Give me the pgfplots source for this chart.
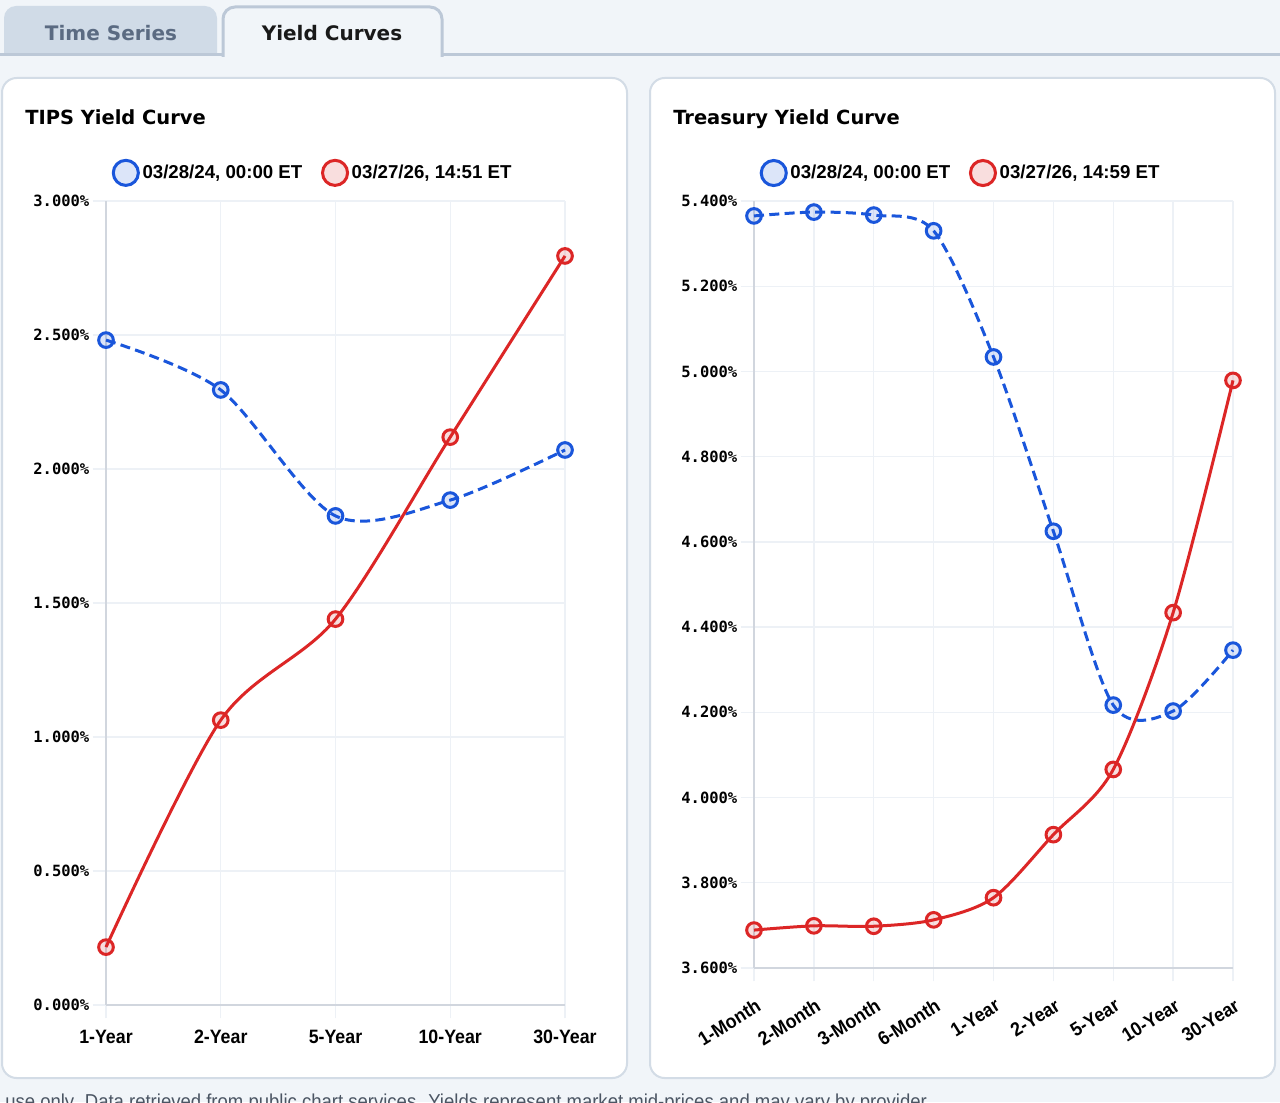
\documentclass[border=0pt]{standalone}
\usepackage{fontspec}
\usepackage{pgfplots}
\pgfplotsset{compat=1.18}
\setmainfont{Liberation Sans}
\newfontfamily\dv{DejaVu Sans}
\newfontfamily\condfont[FakeStretch=0.92]{Liberation Sans}
\newfontfamily\monofont{DejaVu Sans Mono}

\definecolor{bg}{HTML}{F1F5F9}
\definecolor{panelborder}{HTML}{D3DCE6}
\definecolor{tabline}{HTML}{BCC8D7}
\definecolor{tabfill}{HTML}{D0DBE7}
\definecolor{tabtext}{HTML}{5B6B82}
\definecolor{gridc}{HTML}{EDF1F6}
\definecolor{axisc}{HTML}{D1D6DE}
\definecolor{cblue}{HTML}{1A56DB}
\definecolor{cred}{HTML}{DC2626}
\definecolor{foot}{HTML}{4B5563}

\pgfplotsset{
  yc/.style={
    scale only axis,
    clip=false,
    enlargelimits=false,
    axis lines=left,
    axis line style={axisc, line width=1.2pt, -},
    grid=major,
    major grid style={gridc, line width=1pt},
    tick style={gridc, line width=1pt},
    tick align=outside,
    major tick length=10pt,
    xtick=data,
    yticklabel={\pgfmathprintnumber[fixed,fixed zerofill,precision=3,assume math mode=true]{\tick}\%},
    yticklabel style={font=\monofont\bfseries\fontsize{11.6pt}{13pt}\selectfont, text=black, xshift=1pt},
    xticklabel style={font=\condfont\bfseries\fontsize{14.5pt}{17pt}\selectfont, text=black, yshift=-5pt},
    legend style={draw=none, fill=none, anchor=center,
      font=\bfseries\fontsize{14pt}{17pt}\selectfont,
      legend columns=-1,
      /tikz/every even column/.append style={column sep=12pt}},
    legend cell align=left,
  },
  blueser/.style={cblue, line width=2.25pt, smooth, dash pattern=on 7.5pt off 4pt,
    mark=*, mark size=5.5pt,
    mark options={solid, draw=cblue, fill=cblue, fill opacity=0.15, line width=2.25pt},
    legend image code/.code={\draw[cblue, solid, line width=2.25pt, fill=cblue, fill opacity=0.15] (0pt,0pt) circle (9.4pt);}},
  redser/.style={cred, line width=2.25pt, smooth,
    mark=*, mark size=5.5pt,
    mark options={solid, draw=cred, fill=cred, fill opacity=0.15, line width=2.25pt},
    legend image code/.code={\draw[cred, solid, line width=2.25pt, fill=cred, fill opacity=0.15] (0pt,0pt) circle (9.4pt);}},
}

\begin{document}
\begin{tikzpicture}
\begin{scope}[x=0.75pt,y=-0.75pt]
  \path[use as bounding box] (0,0) rectangle (1280,1102);
  \clip (0,0) rectangle (1280,1102);
  \fill[bg] (0,0) rectangle (1280,1102);
  % tab bar
  \fill[tabline] (0,53) rectangle (1280,56);
  \fill[tabfill] (4,53) [rounded corners=9pt] -- (4,6) -- (217,6) [sharp corners] -- (217,53) -- cycle;
  \fill[bg] (223,57) [rounded corners=9pt] -- (223,7) -- (442,7) [sharp corners] -- (442,57) -- cycle;
  \draw[tabline, line width=2.25pt] (223,57) [rounded corners=9pt] -- (223,7) -- (442,7) [sharp corners] -- (442,57);
  \node[tabtext, font=\dv\bfseries\fontsize{15pt}{18pt}\selectfont] at (111,33) {Time Series};
  \node[black!90, font=\dv\bfseries\fontsize{15pt}{18pt}\selectfont] at (332,33) {Yield Curves};
  % panels
  \draw[panelborder, line width=1.5pt, fill=white, rounded corners=11pt] (2,78) rectangle (627,1078);
  \draw[panelborder, line width=1.5pt, fill=white, rounded corners=11pt] (650,78) rectangle (1275,1078);
  \node[anchor=base west, inner sep=0pt, font=\dv\bfseries\fontsize{14.6pt}{17pt}\selectfont] at (25,125) {TIPS Yield Curve};
  \node[anchor=base west, inner sep=0pt, font=\dv\bfseries\fontsize{14.6pt}{17pt}\selectfont] at (673,125) {Treasury Yield Curve};
  % footer
  \node[anchor=base west, foot, inner sep=0pt, font=\condfont\fontsize{15.1pt}{17pt}\selectfont] at (5,1108)
    {use only. Data retrieved from public chart services. Yields represent market mid-prices and may vary by provider.};
  \coordinate (L) at (106,1005);
  \coordinate (R) at (754,968);
\end{scope}

\begin{axis}[yc, at={(L)}, anchor=south west,
  width=344.25pt, height=603pt,
  xmin=0, xmax=4, ymin=0, ymax=3,
  ytick={0,0.5,1,1.5,2,2.5,3},
  xticklabels={1-Year,2-Year,5-Year,10-Year,30-Year},
  legend style={at={(0.451,1.035)}},
]
\addplot[blueser] coordinates {(0,2.481) (1,2.295) (2,1.825) (3,1.884) (4,2.071)};
\addlegendentry{03/28/24, 00:00 ET}
\addplot[redser] coordinates {(0,0.216) (1,1.063) (2,1.440) (3,2.119) (4,2.795)};
\addlegendentry{03/27/26, 14:51 ET}
\end{axis}

\begin{axis}[yc, at={(R)}, anchor=south west,
  width=359.25pt, height=575.25pt,
  xmin=0, xmax=8, ymin=3.6, ymax=5.4,
  ytick={3.6,3.8,4,4.2,4.4,4.6,4.8,5,5.2,5.4},
  xticklabels={1-Month,2-Month,3-Month,6-Month,1-Year,2-Year,5-Year,10-Year,30-Year},
  xticklabel style={rotate=32, anchor=north east, yshift=-3pt},
  legend style={at={(0.432,1.0365)}},
]
\addplot[blueser] coordinates {(0,5.365) (1,5.374) (2,5.367) (3,5.330) (4,5.034) (5,4.625) (6,4.217) (7,4.203) (8,4.346)};
\addlegendentry{03/28/24, 00:00 ET}
\addplot[redser] coordinates {(0,3.689) (1,3.699) (2,3.698) (3,3.713) (4,3.765) (5,3.913) (6,4.066) (7,4.434) (8,4.979)};
\addlegendentry{03/27/26, 14:59 ET}
\end{axis}
\end{tikzpicture}
\end{document}
